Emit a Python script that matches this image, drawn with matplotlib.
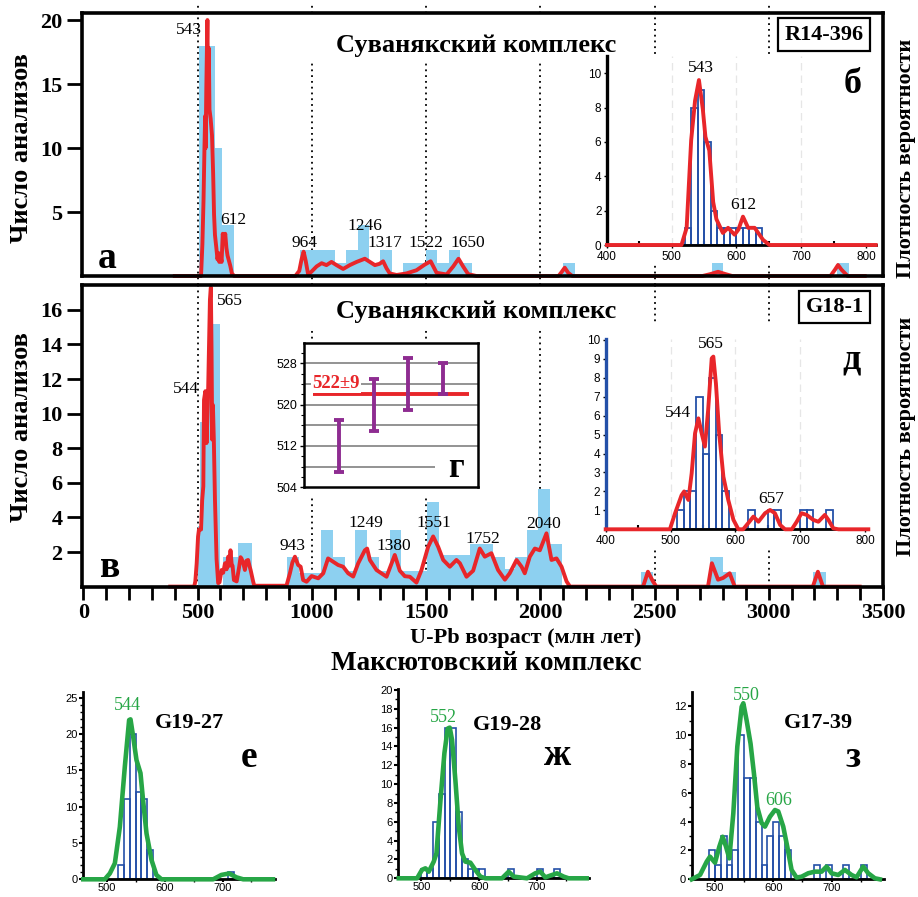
import matplotlib
matplotlib.use('Agg')
import matplotlib.pyplot as plt
import numpy as np
from matplotlib.patches import Rectangle

plt.rcParams['font.family'] = ['Liberation Sans', 'DejaVu Sans']
SERIF = ['Liberation Serif', 'DejaVu Serif']

# ---------------------------------------------------------------- data
# panel a (R14-396): main histogram and probability-density curve
a_bin_left = [505, 575, 607, 950, 1000, 1050, 1100, 1150, 1200, 1250, 1300,
              1400, 1450, 1500, 1550, 1600, 1650, 2100, 2750, 3300]
a_bin_right = [575, 607, 658, 1000, 1050, 1100, 1150, 1200, 1250, 1300, 1350,
               1450, 1500, 1550, 1600, 1650, 1700, 2150, 2800, 3350]
a_counts = [18, 10, 4, 2, 2, 2, 1, 2, 4, 1, 2, 1, 1, 2, 1, 2, 1, 1, 1, 1]
a_pdp_age = [400, 515, 521, 526, 530, 533, 535, 538, 541, 543, 545, 547, 549,
             552, 557, 563, 568, 572, 576, 582, 587, 591, 595, 600, 605, 610,
             616, 621, 626, 631, 637, 643, 650, 660, 928, 945, 955, 964, 973,
             984, 999, 1021, 1043, 1064, 1086, 1108, 1137, 1166, 1196, 1232,
             1254, 1276, 1296, 1312, 1327, 1341, 1371, 1414, 1458, 1495, 1520,
             1546, 1590, 1619, 1642, 1662, 1684, 1720, 2080, 2093, 2107, 2122,
             2140, 2710, 2745, 2778, 2810, 2840, 3270, 3290, 3303, 3318, 3345,
             3420]
a_pdp_val = [0, 0, 2.5, 6, 10, 12.5, 10, 14.5, 18, 20, 16, 13, 17.8,
             13, 12.3, 11, 8, 4.8, 3.2, 2.2, 1.3, 1.8, 1.1, 1.6, 1.1, 3.3,
             2.6, 3.3, 2.2, 1.6, 1.2, 0.8, 0.2, 0, 0, 0.4, 1.3, 1.9, 1.2,
             0.1, 0.35, 0.75, 1.0, 0.85, 1.1, 0.85, 0.55, 0.85, 1.1, 1.35,
             1.1, 0.85, 0.95, 1.15, 0.6, 0.2, 0.08, 0.2, 0.45, 0.9, 1.15,
             0.25, 0.12, 0.75, 1.35, 0.75, 0.15, 0, 0, 0.3, 0.65, 0.25,
             0, 0, 0.15, 0.33, 0.15, 0, 0, 0.5, 0.86, 0.5, 0,
             0]
a_peaks = ['543', '612', '964', '1246', '1317', '1522', '1650']

# panel b (inset, R14-396, 400-800 Ma)
b_bin_left = [520, 530, 540, 550, 560, 570, 580, 590, 600, 610, 620, 630]
b_counts = [1, 8, 9, 6, 2, 1, 1, 1, 1, 1, 1, 1]
b_pdp_age = [400, 515, 523, 530, 536, 542, 548, 552, 558, 564, 569, 579, 587,
             597, 603, 610, 618, 628, 641, 651, 815]
b_pdp_val = [0, 0, 1.0, 6.1, 8.4, 9.6, 7.9, 6.3, 5.5, 2.5, 1.5, 0.7, 1.0,
             0.6, 0.9, 1.65, 1.0, 1.0, 0.3, 0, 0]
b_peaks = ['543', '612']

# panel v (G18-1): main histogram and probability-density curve
v_bin_left = [500, 510, 550, 612, 678, 890, 945, 1040, 1093, 1145, 1190, 1242,
              1295, 1340, 1392, 1446, 1502, 1556, 1692, 1793, 1845, 1890, 1940,
              1990, 2044, 2440, 2744, 2800, 3193]
v_bin_right = [510, 550, 600, 678, 736, 945, 1040, 1093, 1145, 1190, 1242, 1295,
               1340, 1392, 1446, 1502, 1556, 1692, 1793, 1845, 1890, 1940, 1990,
               2044, 2097, 2493, 2800, 2858, 3249]
v_heights = [3.5, 9.5, 15.2, 1.73, 2.54, 1.73, 0.8, 3.27, 1.73, 0.9, 3.27, 1.73,
             0.9, 3.27, 0.9, 0.9, 4.9, 1.8, 2.45, 1.73, 1.0, 1.73, 3.27,
             5.63, 2.45, 0.86, 1.73, 0.86, 0.86]
v_pdp_age = [380, 485, 490, 496, 502, 506, 515, 520, 525, 528, 534, 539, 545,
             549, 554, 558, 561, 564, 567, 571, 576, 583, 590, 596, 605, 612,
             620, 627, 634, 639, 644, 649, 653, 659, 671, 682, 688, 692, 700,
             707, 714, 721, 727, 732, 743, 748, 889, 904, 915, 926, 940, 951,
             962, 977, 999, 1028, 1050, 1071, 1093, 1115, 1137, 1159, 1181,
             1203, 1232, 1242, 1254, 1283, 1327, 1363, 1385, 1407, 1429, 1458,
             1480, 1509, 1531, 1553, 1575, 1604, 1633, 1648, 1677, 1706, 1735,
             1757, 1786, 1815, 1845, 1866, 1896, 1918, 1932, 1954, 1976, 1998,
             2027, 2049, 2071, 2093, 2115, 2130, 2450, 2471, 2493, 2508, 2734,
             2751, 2778, 2800, 2829, 2851, 3193, 3215, 3237, 3398]
v_pdp_val = [0, 0, 0.3, 1.35, 2.9, 3.3, 3.3, 5, 5.8, 10.8, 11.3, 8.3, 10.6,
             13.3, 16.6, 17.3, 13.7, 8.5, 10.5, 8.5, 5, 1.6, 0.2, 0.25, 0.96, 0.8,
             1.35, 1.0, 1.73, 1.2, 2.1, 1.3, 1.2, 0.38, 0.3, 1.15, 1.7, 1.63, 1.35,
             0.96, 1.5, 1.54, 1.2, 0.96, 0.3, 0.05, 0.05, 0.77, 1.4, 1.73, 1.25, 1.15,
             0.38, 0.28, 0.61, 0.48, 0.77, 1.63, 1.44, 1.25, 1.15, 0.77, 0.58,
             1.35, 2.1, 2.2, 1.54, 0.96, 0.57, 1.83, 0.92, 0.6, 0.57, 0.23,
             0.96, 2.3, 2.9, 2.3, 1.54, 1.15, 1.54, 1.35, 0.57, 0.92, 2.2,
             1.73, 1.93, 0.96, 0.4, 0.77, 1.54, 1.15, 0.77, 1.73, 2.2, 2.1,
             3.08, 1.54, 1.63, 1.15, 0.3, 0, 0, 0.86, 0.3, 0, 0,
             1.35, 0.4, 0.5, 0.77, 0, 0, 0.86, 0, 0]
v_peaks = ['565', '544', '943', '1249', '1380', '1551', '1752', '2040']

# panel g (inset): youngest grains with 2-sigma errors and weighted mean
g_grain = [1, 2, 3, 4]
g_age = [512.05, 519.95, 523.95, 525.05]
g_err = [5.05, 5.05, 5.05, 2.95]
g_mean = 522
g_mean_label = '522±9'

# panel d (inset, G18-1, 400-800 Ma)
d_bin_left = [510, 520, 530, 540, 550, 560, 570, 580, 620, 650, 660, 700, 710, 740]
d_counts = [1, 2, 2, 7, 4, 8, 5, 2, 1, 1, 1, 1, 1, 1]
d_pdp_age = [400, 499, 507, 517, 521, 527.5, 532.6, 537.8, 543, 548, 553, 558,
             563.5, 566, 570, 575, 581.5, 589, 597, 604.6, 612, 621.6, 627.8,
             635.5, 645.8, 653.5, 661, 669, 676.6, 687, 694.6, 702, 710, 720,
             728, 738, 743.4, 751, 759, 805]
d_pdp_val = [0, 0, 0.85, 1.8, 2.0, 1.55, 2.96, 5.07, 5.86, 5.07, 4.37, 6.3,
             9.03, 9.12, 7.7, 5.07, 2.78, 1.55, 0.5, 0, 0, 0.4, 0.67,
             0.4, 0.85, 1.02, 0.85, 0.23, 0, 0, 0.4, 0.85, 0.76, 0.5,
             0.4, 0.76, 0.5, 0.05, 0, 0]
d_peaks = ['565', '544', '657']

# Maksyutov complex: e (G19-27), zh (G19-28), z (G17-39)
e_bin_left = [520, 530, 540, 550, 560, 570, 710]
e_counts = [2, 11, 20, 12, 11, 4, 1]
e_pdp_age = [460, 497, 505.7, 514.4, 523, 531.6, 539, 541.4, 546, 551.7, 558.6,
             563, 569, 577.6, 586, 594.8, 684, 698, 711.5, 724, 735.6, 787]
e_pdp_val = [0, 0, 0.8, 2.2, 7.2, 15.5, 21.9, 22, 19.6, 16.4, 14.6,
             10.9, 6.3, 2.66, 0.6, 0, 0, 0.6, 0.8, 0.27, 0, 0]

zh_bin_left = [500, 510, 520, 530, 540, 550, 560, 570, 580, 590, 600, 650, 700, 730]
zh_counts = [1, 1, 6, 9, 16, 16, 7, 2, 1, 1, 1, 1, 1, 1]
zh_pdp_age = [460.8, 492.5, 501, 507, 512.7, 521.3, 526, 533, 539.8, 545.5, 549,
              553, 558.8, 564.6, 570.3, 576, 584.7, 593.4, 602, 610.7, 639.5,
              651, 659.7, 682.7, 697, 705.8, 714.4, 726, 734.6, 746, 754.8, 786]
zh_pdp_val = [0, 0, 0.9, 1.06, 0.7, 1.77, 2.65, 8.3, 13.3, 15.9, 16.0,
              14.7, 10.4, 5.5, 2.65, 1.77, 1.66, 0.88, 0.18, 0, 0,
              0.7, 0.18, 0, 0.53, 0.7, 0.1, 0.35, 0.53, 0.18, 0, 0]

z_bin_left = [490, 500, 510, 520, 530, 540, 550, 560, 570, 580, 590, 600, 610,
              620, 670, 690, 720, 750]
z_counts = [2, 1, 3, 1, 2, 10, 7, 7, 4, 1, 3, 4, 3, 2, 1, 1, 1, 1]
z_pdp_age = [460, 474.3, 485.7, 491.4, 500, 507.4, 513.1, 518.9, 524.6, 531.4,
             538.3, 545.7, 548.6, 554.3, 561, 566.9, 572.6, 580, 585.7, 594.3,
             602.9, 608.6, 617.1, 624, 631.4, 640, 648.6, 660, 671.4, 682.9,
             691.4, 700, 711.4, 722.9, 734.3, 742.9, 754.3, 762.9, 774.3, 782.9]
z_pdp_val = [0, 0.3, 1.22, 1.57, 1.15, 2.26, 2.95, 2.26, 1.45, 4.57,
             9.2, 11.95, 12.2, 11.0, 9.4, 7.3, 5.0, 3.9, 3.65, 4.34,
             4.8, 4.7, 3.65, 2.26, 0.65, 0.12, 0.18, 0.42, 0.53, 0.53,
             0.88, 0.42, 0.3, 0.65, 0.3, 0.14, 0.88, 0.42, 0.07, 0]

main_xticks = [0, 500, 1000, 1500, 2000, 2500, 3000, 3500]
a_yticks = [5, 10, 15, 20]
v_yticks = [2, 4, 6, 8, 10, 12, 14, 16]

# ---------------------------------------------------------------- style
RED = '#e8262a'
LBLUE = '#8dd0f0'
DBLUE = '#2450a8'
GREEN = '#27a646'
PURPLE = '#8e2c91'
W, H = 918, 897

fig = plt.figure(figsize=(W / 100, H / 100), dpi=100)


def ax_px(l, t, r, b):
    return fig.add_axes([l / W, 1 - b / H, (r - l) / W, (b - t) / H])


def ftext(px, py, s, **kw):
    kw.setdefault('ha', 'center')
    kw.setdefault('va', 'center')
    return fig.text(px / W, 1 - py / H, s, **kw)


def style_main(ax, ymax, yticks):
    ax.set_xlim(-6, 3500)
    ax.set_ylim(0, ymax)
    for s in ax.spines.values():
        s.set_linewidth(2.6)
        s.set_zorder(6)
    ax.set_yticks(yticks)
    ax.set_yticklabels([str(t) for t in yticks], fontfamily=SERIF,
                       fontweight='bold', fontsize=16)
    ax.tick_params(axis='y', direction='out', length=11, width=2, pad=3)


def dotted(ax, ymin=0, ymax=1):
    for xv in [500, 1000, 1500, 2000, 2500, 3000]:
        ax.axvline(xv, ymin=ymin, ymax=ymax, clip_on=False, color='black',
                   lw=1.3, ls=(0, (1, 2.2)), zorder=1)


def white(ax, x0, x1, y0, y1):
    ax.add_patch(Rectangle((x0, y0), x1 - x0, y1 - y0, facecolor='white',
                           edgecolor='none', zorder=4))


# ---------------------------------------------------------------- panel a
ax1 = ax_px(82, 13, 883, 276)
style_main(ax1, 20.55, a_yticks)
ax1.set_xticks([])
dotted(ax1, -9 / 263, 1 + 8 / 263)
ax1.bar(a_bin_left, a_counts,
        width=[r - l for l, r in zip(a_bin_left, a_bin_right)],
        align='edge', color=LBLUE, edgecolor='none', zorder=2)
ax1.plot(a_pdp_age, a_pdp_val, color=RED, lw=2.8, zorder=3,
         solid_joinstyle='round', clip_on=False)
white(ax1, 948, 2369, 16.9, 20.55)
white(ax1, 2238, 3485, 1.05, 17.0)
for lab, (xx, yy) in zip(a_peaks, [(462, 18.9), (655, 4.06), (968, 2.29),
                                  (1234, 3.6), (1320, 2.29), (1499, 2.29),
                                  (1683, 2.29)]):
    ax1.text(xx, yy, lab, ha='center', va='baseline', fontfamily=SERIF,
             fontsize=12.5, zorder=5)
ax1.text(1718, 17.52, 'Суванякский комплекс', ha='center', va='baseline',
         fontfamily=SERIF, fontweight='bold', fontsize=19, zorder=5)
ax1.text(106, 0.6, 'а', ha='center', va='baseline', fontfamily=SERIF,
         fontweight='bold', fontsize=27, zorder=5)
ftext(824, 34.5, 'R14-396', fontfamily=SERIF, fontweight='bold', fontsize=16,
      bbox=dict(boxstyle='square,pad=0.28', fc='white', ec='black', lw=1.6))

# ---------------------------------------------------------------- panel v
ax2 = ax_px(82, 285, 883, 586.6)
style_main(ax2, 17.44, v_yticks)
ax2.set_xticks(main_xticks)
ax2.set_xticks(np.arange(0, 3501, 100), minor=True)
ax2.set_xticklabels([str(t) for t in main_xticks], fontfamily=SERIF,
                    fontweight='bold', fontsize=16)
ax2.tick_params(axis='x', which='both', direction='out', length=9, width=2,
                pad=3)
dotted(ax2)
ax2.bar(v_bin_left, v_heights,
        width=[r - l for l, r in zip(v_bin_left, v_bin_right)],
        align='edge', color=LBLUE, edgecolor='none', zorder=2)
ax2.plot(v_pdp_age, v_pdp_val, color=RED, lw=2.8, zorder=3,
         solid_joinstyle='round', clip_on=False)
white(ax2, 948, 2369, 14.96, 17.44)
white(ax2, 838, 1735, 5.18, 14.26)
white(ax2, 2238, 3485, 2.1, 15.1)
for lab, (xx, yy) in zip(v_peaks, [(641, 16.29), (449, 11.18), (916, 2.12),
                                  (1236, 3.46), (1358, 2.12), (1534, 3.46),
                                  (1748, 2.5), (2015, 3.4)]):
    ax2.text(xx, yy, lab, ha='center', va='baseline', fontfamily=SERIF,
             fontsize=12.5, zorder=5)
ax2.text(1718, 15.52, 'Суванякский комплекс', ha='center', va='baseline',
         fontfamily=SERIF, fontweight='bold', fontsize=19, zorder=5)
ax2.text(116, 0.57, 'в', ha='center', va='baseline', fontfamily=SERIF,
         fontweight='bold', fontsize=27, zorder=5)
ftext(834.5, 307, 'G18-1', fontfamily=SERIF, fontweight='bold', fontsize=16,
      bbox=dict(boxstyle='square,pad=0.28', fc='white', ec='black', lw=1.6))

# ---------------------------------------------------------------- figure labels
for yc in (148, 427):
    ftext(22, yc, 'Число анализов', rotation=90, fontfamily=SERIF,
          fontweight='bold', fontsize=19)
for yc in (158, 436):
    ftext(906, yc, 'Плотность вероятности', rotation=90, fontfamily=SERIF,
          fontweight='bold', fontsize=16)
ftext(526, 643, 'U-Pb возраст (млн лет)', va='baseline', fontfamily=SERIF,
      fontweight='bold', fontsize=16)
ftext(486, 670, 'Максютовский комплекс', va='baseline', fontfamily=SERIF,
      fontweight='bold', fontsize=19.5)


# ---------------------------------------------------------------- insets b, d
def style_inset(ax, xmax, ymax, yticks, leftcolor):
    ax.set_xlim(400, xmax)
    ax.set_ylim(0, ymax)
    ax.spines['top'].set_visible(False)
    ax.spines['right'].set_visible(False)
    ax.spines['left'].set_linewidth(2.4)
    ax.spines['left'].set_color(leftcolor)
    ax.spines['bottom'].set_linewidth(2)
    ax.set_xticks([400, 500, 600, 700, 800])
    ax.set_xticks([450, 550, 650, 750], minor=True)
    ax.set_yticks(yticks)
    ax.tick_params(which='major', length=2, width=1, labelsize=8.5, pad=2)
    ax.tick_params(axis='x', which='minor', direction='in', length=3, width=1.5)
    for xv in (500, 600, 700):
        ax.axvline(xv, color='#e6e6e6', lw=0.9, ls=(0, (6, 4)), zorder=0)


axb = ax_px(607, 56, 875.7, 245)
style_inset(axb, 815, 11, [0, 2, 4, 6, 8, 10], 'black')
axb.bar(b_bin_left, b_counts, width=10, align='edge', fill=False,
        edgecolor=DBLUE, lw=1.3, zorder=2)
axb.plot(b_pdp_age, b_pdp_val, color=RED, lw=2.8, zorder=3, clip_on=False)
for lab, (xx, yy) in zip(b_peaks, [(545.6, 10.08), (610, 2.07)]):
    axb.text(xx, yy, lab, ha='center', va='baseline', fontfamily=SERIF,
             fontsize=12.5)
axb.text(780, 8.82, 'б', ha='center', va='baseline', fontfamily=SERIF,
         fontweight='bold', fontsize=26)

axd = ax_px(605.7, 339, 868.3, 529.3)
style_inset(axd, 805, 10.05, [1, 2, 3, 4, 5, 6, 7, 8, 9, 10], DBLUE)
axd.bar(d_bin_left, d_counts, width=10, align='edge', fill=False,
        edgecolor=DBLUE, lw=1.3, zorder=2)
axd.plot(d_pdp_age, d_pdp_val, color=RED, lw=2.8, zorder=3, clip_on=False)
for lab, (xx, yy) in zip(d_peaks, [(562.4, 9.56), (511.2, 5.95), (655.5, 1.41)]):
    axd.text(xx, yy, lab, ha='center', va='baseline', fontfamily=SERIF,
             fontsize=12.5)
axd.text(778.4, 8.5, 'д', ha='center', va='baseline', fontfamily=SERIF,
         fontweight='bold', fontsize=26)

# ---------------------------------------------------------------- inset g
axg = ax_px(304, 343, 478, 487.3)
axg.set_xlim(0, 5)
axg.set_ylim(504, 531.9)
for s in axg.spines.values():
    s.set_linewidth(1.8)
axg.set_xticks([])
axg.set_yticks([504, 512, 520, 528])
axg.set_yticks(np.arange(506, 531, 2), minor=True)
axg.tick_params(axis='y', which='major', length=3, width=1, labelsize=9, pad=2)
axg.tick_params(axis='y', which='minor', length=2, width=0.8)
for yv in (512, 516, 520, 524, 528):
    axg.axhline(yv, color='#8a8a8a', lw=1.3, zorder=1)
axg.hlines(508, 0, 3.77, color='#8a8a8a', lw=1.3, zorder=1)
axg.hlines(g_mean, 0.26, 4.74, color=RED, lw=2.8, zorder=2)
axg.errorbar(g_grain, g_age, yerr=g_err, fmt='none', ecolor=PURPLE,
             elinewidth=2.8, capsize=3.5, capthick=2.8, zorder=3)
axg.text(0.92, 524, g_mean_label, ha='center', va='center', color=RED,
         fontfamily=SERIF, fontweight='bold', fontsize=13.5, zorder=4,
         bbox=dict(boxstyle='square,pad=0.05', fc='white', ec='none'))
axg.text(4.37, 506.04, 'г', ha='center', va='baseline', fontfamily=SERIF,
         fontweight='bold', fontsize=25, zorder=4)


# ---------------------------------------------------------------- bottom row
def style_small(ax, ymax, ymajor):
    ax.set_xlim(460, 790)
    ax.set_ylim(0, ymax)
    ax.patch.set_visible(False)
    ax.spines['top'].set_visible(False)
    ax.spines['right'].set_visible(False)
    ax.spines['left'].set_linewidth(2)
    ax.spines['bottom'].set_linewidth(2)
    ax.set_xticks([500, 600, 700])
    ax.set_xticks([550, 650, 750], minor=True)
    ax.set_yticks(ymajor)
    ax.set_yticks(np.arange(0, ymax, 1), minor=True)
    ax.tick_params(which='major', direction='out', length=3, width=1.5,
                   labelsize=8, pad=1)
    ax.tick_params(axis='x', which='major', length=2, pad=0.5)
    ax.tick_params(which='minor', direction='out', length=2.5, width=1)


def small_panel(ax, left, counts, age, val):
    ax.bar(left, counts, width=10, align='edge', fill=False, edgecolor=DBLUE,
           lw=1.2, zorder=2)
    ax.plot(age, val, color=GREEN, lw=3.3, zorder=3, clip_on=False,
            solid_joinstyle='round')


def small_texts(ax, peaks, sample, letter):
    for lab, (xx, yy) in peaks:
        ax.text(xx, yy, lab, ha='center', va='baseline', color=GREEN,
                fontfamily=SERIF, fontsize=13)
    ax.text(sample[1][0], sample[1][1], sample[0], ha='center', va='baseline',
            fontfamily=SERIF, fontweight='bold', fontsize=16)
    ax.text(letter[1][0], letter[1][1], letter[0], ha='center', va='baseline',
            fontfamily=SERIF, fontweight='bold', fontsize=27)


axe = ax_px(83.3, 691.7, 274.7, 879.3)
style_small(axe, 25.8, [0, 5, 10, 15, 20, 25])
small_panel(axe, e_bin_left, e_counts, e_pdp_age, e_pdp_val)
small_texts(axe, [('544', (536.4, 23.25))], ('G19-27', (643.6, 20.74)),
            ('е', (745.3, 15.47)))

axzh = ax_px(398.3, 689, 589, 878.3)
style_small(axzh, 20.1, list(range(0, 21, 2)))
small_panel(axzh, zh_bin_left, zh_counts, zh_pdp_age, zh_pdp_val)
small_texts(axzh, [('552', (538, 16.62))], ('G19-28', (648.8, 15.74)),
            ('ж', (736.2, 12.03)))

axz = ax_px(691.7, 691.7, 884, 879.3)
style_small(axz, 13, list(range(0, 13, 2)))
small_panel(axz, z_bin_left, z_counts, z_pdp_age, z_pdp_val)
small_texts(axz, [('550', (554.4, 12.42)), ('606', (609.8, 5.15))],
            ('G17-39', (677.2, 10.46)), ('з', (736.7, 7.8)))

fig.savefig('out.png', dpi=100)
